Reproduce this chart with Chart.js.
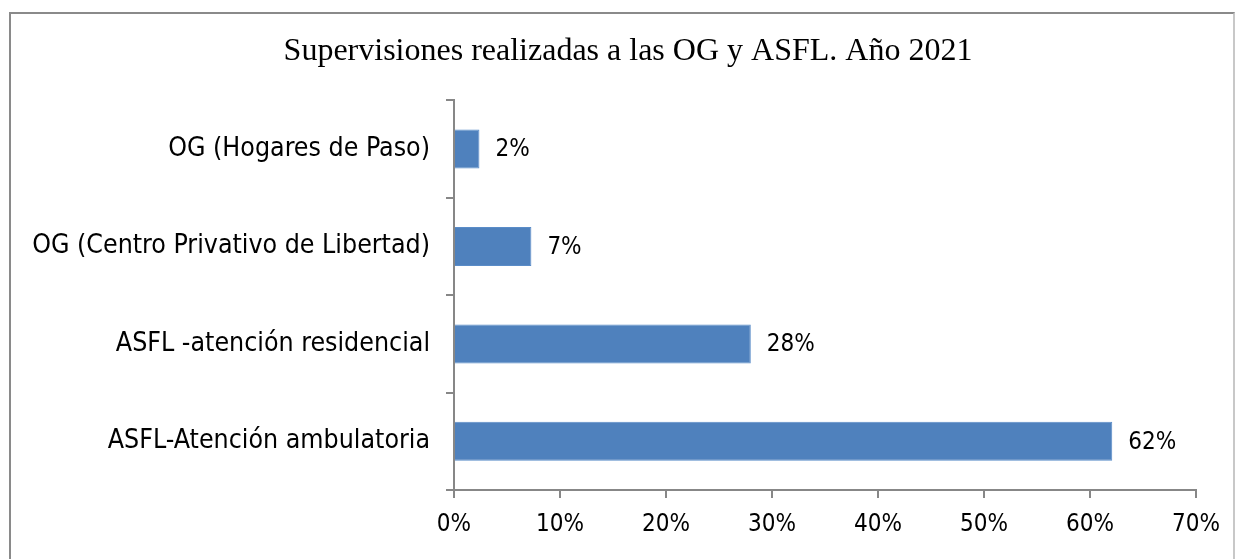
<!DOCTYPE html>
<html><head><meta charset="utf-8">
<script src="https://cdn.jsdelivr.net/npm/chart.js@4"></script>
<style>
html,body{margin:0;padding:0;background:#fff;}
#wrap{position:relative;width:1235px;height:559px;overflow:hidden;}
#frame{position:absolute;left:9px;top:12px;width:1226px;height:600px;border:2px solid #8a8a8a;border-right-color:#c8c8c8;box-sizing:border-box;}
canvas{position:absolute;left:0;top:0;}
</style></head><body>
<div id="wrap"><div id="frame"></div><canvas id="c" width="1235" height="559"></canvas></div>
<script>
const chartTitle = 'Supervisiones realizadas a las OG y ASFL. Año 2021';
const categories = ['OG (Hogares de Paso)', 'OG (Centro Privativo de Libertad)', 'ASFL -atención residencial', 'ASFL-Atención ambulatoria'];
const values = [2.4, 7.3, 28.0, 62.1];
const valueLabels = ['2%', '7%', '28%', '62%'];
const xTickValues = [0, 10, 20, 30, 40, 50, 60, 70];

const labelFont = "'DejaVu Sans Condensed', 'DejaVu Sans', sans-serif";
const axisColor = '#878787';

const barLabels = {
  id: 'barLabels',
  afterDatasetsDraw(chart) {
    const ctx = chart.ctx;
    const meta = chart.getDatasetMeta(0);
    ctx.save();
    ctx.font = "24px " + labelFont;
    ctx.fillStyle = '#000';
    ctx.textAlign = 'left';
    ctx.textBaseline = 'middle';
    meta.data.forEach((bar, i) => {
      ctx.fillText(valueLabels[i], bar.x + 16, bar.y + 1);
    });
    ctx.restore();
  }
};

new Chart(document.getElementById('c'), {
  type: 'bar',
  data: {
    labels: categories,
    datasets: [{
      data: values,
      backgroundColor: '#4F81BD',
      borderColor: '#5A8CC8',
      borderWidth: 1,
      barPercentage: 0.4,
      categoryPercentage: 1.0,
      xAxisID: 'x',
      yAxisID: 'y'
    }]
  },
  options: {
    indexAxis: 'y',
    responsive: false,
    animation: false,
    devicePixelRatio: 1,
    layout: { padding: { left: 21, right: 0, top: 0, bottom: 0 } },
    plugins: {
      legend: { display: false },
      tooltip: { enabled: false },
      title: {
        display: true,
        text: chartTitle,
        color: '#000',
        font: { family: "'Liberation Serif', 'Times New Roman', serif", size: 32, weight: 'normal', lineHeight: 1.2 },
        padding: { top: 32, bottom: 30 }
      }
    },
    scales: {
      x: {
        type: 'linear',
        min: 0,
        max: 70,
        afterBuildTicks(scale) { scale.ticks = xTickValues.map(v => ({ value: v })); },
        afterFit(scale) { scale.height = 69; },
        ticks: {
          color: '#000',
          padding: 12,
          font: { family: labelFont, size: 24 },
          callback: v => v + '%'
        },
        grid: { display: true, drawOnChartArea: false, drawTicks: true, tickLength: 8, color: axisColor, lineWidth: 2 },
        border: { display: true, color: axisColor, width: 2 }
      },
      y: {
        afterFit(scale) { scale.width = 433; },
        ticks: {
          color: '#000',
          padding: 16,
          autoSkip: false,
          font: { family: labelFont, size: 26.5 }
        },
        grid: { display: true, drawOnChartArea: false, drawTicks: true, tickLength: 8, color: axisColor, lineWidth: 2, offset: true },
        border: { display: true, color: axisColor, width: 2 }
      },
      yRightSpace: {
        type: 'category',
        position: 'right',
        display: true,
        afterFit(scale) { scale.width = 39; },
        ticks: { display: false },
        grid: { display: false, drawTicks: false },
        border: { display: false }
      }
    }
  },
  plugins: [barLabels]
});
</script>
</body></html>
